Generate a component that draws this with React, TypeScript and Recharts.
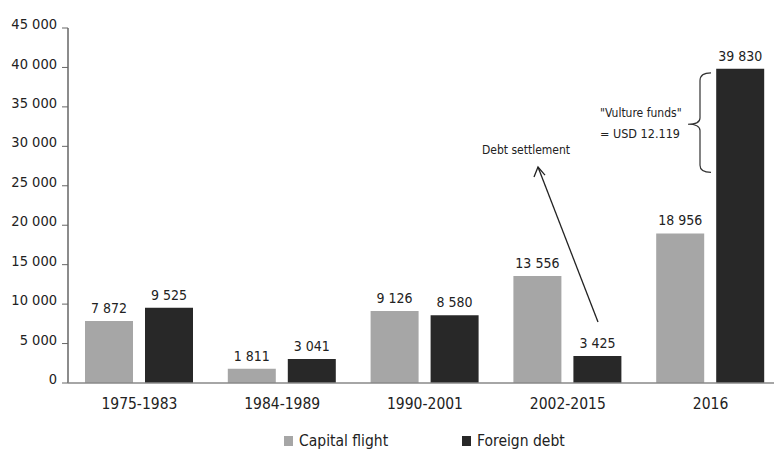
import React from "react";
import { BarChart, Bar, XAxis, YAxis, LabelList } from "recharts";

const categories = ["1975-1983", "1984-1989", "1990-2001", "2002-2015", "2016"];
const capitalFlight = [7872, 1811, 9126, 13556, 18956];
const foreignDebt = [9525, 3041, 8580, 3425, 39830];
const yTicks = [0, 5000, 10000, 15000, 20000, 25000, 30000, 35000, 40000, 45000];

const data = categories.map((c, i) => ({
  period: c,
  capital: capitalFlight[i],
  debt: foreignDebt[i],
}));

const FONT = "'DejaVu Sans Condensed', 'DejaVu Sans', sans-serif";
const GRAY = "#a6a6a6";
const DARK = "#282828";

const fmt = (v: number) => {
  const s = String(Math.round(v));
  return s.replace(/\B(?=(\d{3})+(?!\d))/g, " ");
};

// plot geometry (for annotation overlay)
const TOP = 28;
const PLOT_H = 355;
const yPix = (v: number) => TOP + ((45000 - v) / 45000) * PLOT_H;

const TopLabel = (props: any) => {
  const { x, y, width, value } = props;
  return (
    <text
      x={Number(x) + Number(width) / 2}
      y={Number(y) - 8}
      textAnchor="middle"
      fontSize={14}
      fill="#222"
      style={{ fontFamily: FONT, fontStretch: "condensed" }}
    >
      {fmt(Number(value))}
    </text>
  );
};

const txt: React.CSSProperties = { fontFamily: FONT, fontStretch: "condensed" };

export default function App() {
  return (
    <div
      style={{
        position: "absolute",
        left: 0,
        top: 0,
        width: 774,
        height: 456,
        overflow: "hidden",
        background: "#fff",
        fontFamily: FONT,
        fontStretch: "condensed",
      }}
    >
      <BarChart
        width={790}
        height={456}
        data={data}
        margin={{ top: TOP, right: 8, bottom: 43, left: 0 }}
        barGap={12}
        barCategoryGap={17}
      >
        <YAxis
          width={68}
          domain={[0, 45000]}
          ticks={yTicks}
          interval={0}
          tickFormatter={fmt}
          axisLine={{ stroke: "#666", strokeWidth: 1.5 }}
          tickLine={{ stroke: "#666" }}
          tickSize={6}
          tickMargin={5}
          tick={{ fill: "#222", fontSize: 14.5, style: txt, dy: -4 }}
        />
        <XAxis
          dataKey="period"
          height={30}
          axisLine={{ stroke: "#888", strokeWidth: 1.5 }}
          tickLine={false}
          tickSize={6}
          tickMargin={9}
          interval={0}
          tick={{ fill: "#222", fontSize: 15.5, style: txt }}
        />
        <Bar dataKey="capital" fill={GRAY} isAnimationActive={false}>
          <LabelList dataKey="capital" content={TopLabel} />
        </Bar>
        <Bar dataKey="debt" fill={DARK} isAnimationActive={false}>
          <LabelList dataKey="debt" content={TopLabel} />
        </Bar>
      </BarChart>

      <svg
        width={774}
        height={456}
        style={{ position: "absolute", left: 0, top: 0, pointerEvents: "none" }}
      >
        {/* Debt settlement arrow */}
        <line x1={598} y1={yPix(7730)} x2={538} y2={yPix(27370)} stroke="#222" strokeWidth={1.3} />
        <path
          d={`M ${534} ${yPix(27370) + 10} L ${538} ${yPix(27370)} L ${545} ${yPix(27370) + 8}`}
          fill="none"
          stroke="#222"
          strokeWidth={1.3}
        />
        <text x={482} y={154} fontSize={12} fill="#222" style={txt}>
          Debt settlement
        </text>
        {/* Vulture funds brace */}
        <path
          d={`M 711 ${yPix(39300)} Q 700 ${yPix(39300)} 700 ${yPix(38300)} L 700 ${yPix(33600)} Q 700 ${yPix(32800)} 688 ${yPix(32800)} Q 700 ${yPix(32800)} 700 ${yPix(32000)} L 700 ${yPix(27600)} Q 700 ${yPix(26700)} 711 ${yPix(26700)}`}
          fill="none"
          stroke="#333"
          strokeWidth={1.2}
        />
        <text x={600} y={117} fontSize={12} fill="#222" style={txt}>
          "Vulture funds"
        </text>
        <text x={600} y={138} fontSize={12.5} fill="#222" style={txt}>
          = USD 12.119
        </text>
      </svg>

      {/* Legend */}
      <div
        style={{
          position: "absolute",
          top: 432,
          left: 284,
          display: "flex",
          alignItems: "center",
          fontSize: 15.5,
          color: "#222",
          lineHeight: "18px",
        }}
      >
        <span style={{ width: 9, height: 10, background: GRAY, display: "inline-block", marginRight: 6 }} />
        <span style={{ width: 163 }}>Capital flight</span>
        <span style={{ width: 9, height: 10, background: DARK, display: "inline-block", marginRight: 6 }} />
        <span>Foreign debt</span>
      </div>
    </div>
  );
}
